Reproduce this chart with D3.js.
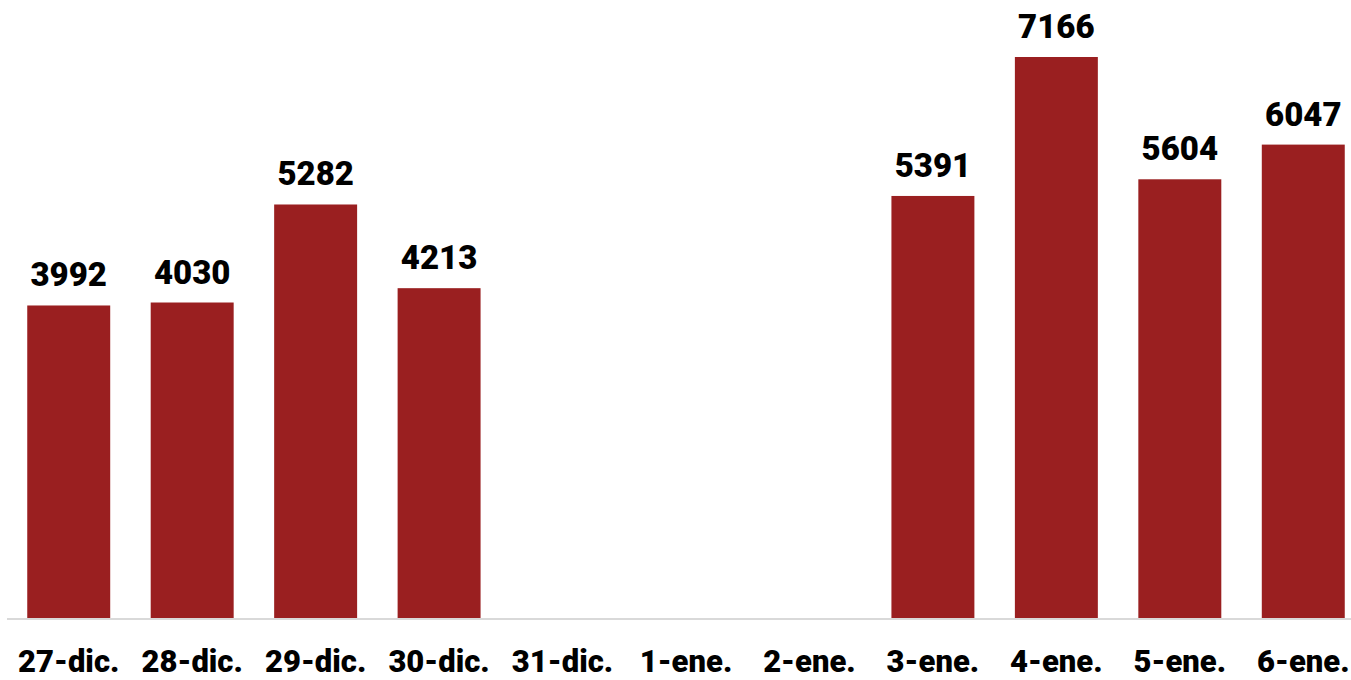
<!DOCTYPE html>
<html><head><meta charset="utf-8">
<script src="https://cdn.jsdelivr.net/npm/d3@7"></script>
<style>body{margin:0;background:#fff}svg{display:block}</style>
</head><body>
<script>
const categories = ["27-dic.","28-dic.","29-dic.","30-dic.","31-dic.","1-ene.","2-ene.","3-ene.","4-ene.","5-ene.","6-ene."];
const values = [3992,4030,5282,4213,null,null,null,5391,7166,5604,6047];

const W = 1351, H = 680;
const svg = d3.select("body").append("svg").attr("width", W).attr("height", H);
const x = d3.scaleBand().domain(categories).range([7, 1365]).paddingInner(0.328).paddingOuter(0.164);
const y = d3.scaleLinear().domain([0, 7166]).range([618, 57]);

svg.append("line").attr("x1", 7).attr("x2", W).attr("y1", 619).attr("y2", 619)
  .attr("stroke", "#d9d9d9").attr("stroke-width", 2);

const data = categories.map((c, i) => ({c, v: values[i]})).filter(d => d.v != null);
svg.selectAll("rect.bar").data(data).join("rect").attr("class","bar")
  .attr("x", d => x(d.c)).attr("width", x.bandwidth())
  .attr("y", d => y(d.v)).attr("height", d => y(0) - y(d.v))
  .attr("fill", "#9a1f20");

svg.selectAll("text.val").data(data).join("text").attr("class","val")
  .attr("x", d => x(d.c) + x.bandwidth()/2).attr("y", d => y(d.v) - 19)
  .attr("text-anchor","middle").attr("font-family","Roboto").attr("font-weight","900")
  .attr("font-size", 33).attr("fill","#000").text(d => d.v);

svg.selectAll("text.cat").data(categories).join("text").attr("class","cat")
  .attr("x", d => x(d) + x.bandwidth()/2).attr("y", 672)
  .attr("text-anchor","middle").attr("font-family","Roboto").attr("font-weight","900")
  .attr("font-size", 31).attr("fill","#000").text(d => d);
</script>
</body></html>
